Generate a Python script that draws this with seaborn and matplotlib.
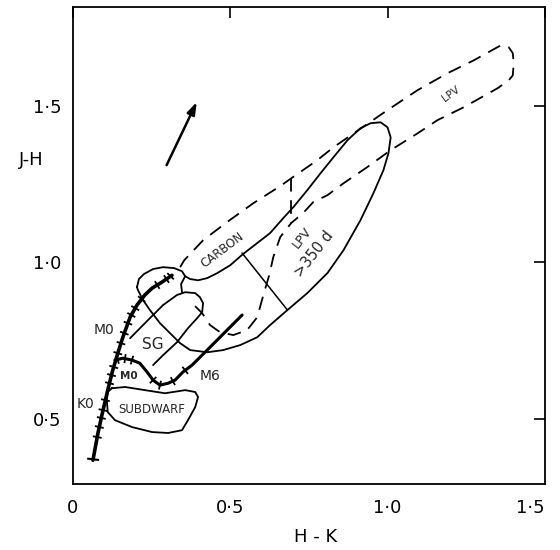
import numpy as np
import matplotlib
matplotlib.use("Agg")
import matplotlib.pyplot as plt
import seaborn as sns

# --- data (H-K, J-H) ---
# giant sequence (thick, with spectral-type ticks)
giant_hk = [0.064, 0.080, 0.096, 0.111, 0.127, 0.143, 0.159, 0.182, 0.204, 0.229, 0.252, 0.283, 0.315]
giant_jh = [0.367, 0.454, 0.527, 0.591, 0.655, 0.709, 0.760, 0.824, 0.863, 0.895, 0.917, 0.936, 0.958]
giant_tick_jh = [0.441, 0.473, 0.502, 0.527, 0.559, 0.613, 0.639, 0.665, 0.709, 0.741,
                 0.773, 0.805, 0.831, 0.853, 0.882, 0.927, 0.946, 0.955]
giant_cap_jh = [0.370]

# dwarf sequence, M0 -> M6 and beyond
dwarf_hk = [0.134, 0.159, 0.188, 0.213, 0.236, 0.255, 0.277, 0.303, 0.325, 0.350, 0.379, 0.420, 0.538]
dwarf_jh = [0.687, 0.693, 0.687, 0.677, 0.649, 0.623, 0.607, 0.613, 0.623, 0.649, 0.671, 0.712, 0.831]
dwarf_tick_hk = [0.143, 0.166, 0.188, 0.255, 0.277, 0.318, 0.357]

# subdwarf region
subdwarf_hk = [0.124, 0.166, 0.229, 0.293, 0.357, 0.389, 0.398, 0.389, 0.366, 0.347, 0.303,
               0.252, 0.188, 0.134, 0.111, 0.108, 0.111, 0.124]
subdwarf_jh = [0.597, 0.601, 0.591, 0.581, 0.591, 0.585, 0.569, 0.537, 0.495, 0.463, 0.454,
               0.457, 0.473, 0.495, 0.521, 0.559, 0.585, 0.597]

# supergiant finger (open at lower left)
sg_hk = [0.182, 0.245, 0.287, 0.331, 0.357, 0.389, 0.404, 0.414, 0.411, 0.395, 0.366, 0.331, 0.287, 0.255]
sg_jh = [0.757, 0.821, 0.863, 0.895, 0.904, 0.901, 0.888, 0.869, 0.840, 0.821, 0.789, 0.744, 0.703, 0.671]

# carbon stars / LPV > 350 d outline
carbon_hk = [0.204, 0.210, 0.226, 0.255, 0.287, 0.322, 0.347, 0.357, 0.373, 0.398, 0.427, 0.459,
             0.500, 0.541, 0.586, 0.627, 0.669, 0.701, 0.745, 0.787, 0.828, 0.873, 0.914, 0.946,
             0.978, 1.000, 1.010, 1.003, 0.987, 0.955, 0.914, 0.860, 0.809, 0.745, 0.682, 0.627,
             0.586, 0.532, 0.478, 0.427, 0.373, 0.341, 0.309, 0.277, 0.245, 0.223, 0.207, 0.204]
carbon_jh = [0.920, 0.946, 0.962, 0.978, 0.984, 0.981, 0.971, 0.955, 0.946, 0.942, 0.949, 0.965,
             0.990, 1.026, 1.061, 1.093, 1.141, 1.176, 1.230, 1.284, 1.335, 1.390, 1.428, 1.444,
             1.447, 1.431, 1.399, 1.348, 1.294, 1.220, 1.134, 1.038, 0.965, 0.901, 0.847, 0.799,
             0.760, 0.735, 0.719, 0.712, 0.719, 0.741, 0.773, 0.805, 0.847, 0.879, 0.911, 0.920]
link_hk = [0.357, 0.344, 0.347]
link_jh = [0.955, 0.930, 0.904]
divider_hk = [0.538, 0.682]
divider_jh = [1.029, 0.847]

# dashed LPV band
lpv_hk = [0.341, 0.354, 0.414, 0.490, 0.573, 0.659, 0.694, 0.777, 0.828, 1.000, 1.096, 1.191,
          1.274, 1.360, 1.385, 1.398, 1.401, 1.398, 1.385, 1.350, 1.242, 1.159, 1.096, 1.010,
          0.936, 0.860, 0.809, 0.764, 0.732, 0.694, 0.659, 0.637, 0.624, 0.608, 0.586, 0.554,
          0.510, 0.468, 0.436, 0.411, 0.379]
lpv_jh = [0.984, 1.006, 1.070, 1.128, 1.188, 1.243, 1.268, 1.326, 1.367, 1.486, 1.550, 1.604,
          1.645, 1.693, 1.687, 1.668, 1.636, 1.597, 1.581, 1.556, 1.495, 1.454, 1.412, 1.358,
          1.304, 1.252, 1.214, 1.192, 1.157, 1.125, 1.080, 1.016, 0.958, 0.904, 0.824, 0.783,
          0.767, 0.776, 0.799, 0.837, 0.869]
cut_hk = [0.694, 0.694]
cut_jh = [1.268, 1.125]

# reddening vector
arrow_hk = [0.298, 0.394]
arrow_jh = [1.310, 1.512]

# --- figure ---
sns.set_theme(style="white")
plt.rcParams['font.family'] = ['DejaVu Sans']

fig = plt.figure(figsize=(5.6, 5.5), dpi=100)
ax = fig.add_axes([0.130, 0.120, 0.843, 0.867])
ax.set_xlim(0, 1.5)
ax.set_ylim(0.291, 1.815)

ink = 'black'
dash = (0, (7.5, 4.8))


def trace(xs, ys, lw=1.3, ls='-'):
    sns.lineplot(x=xs, y=ys, sort=False, estimator=None, color=ink, lw=lw,
                 linestyle=ls, ax=ax, solid_joinstyle='round', solid_capstyle='round')


def ticks(xs, ys, vals, along='y', half=4.5, lw=1.3):
    # short marks perpendicular to the track, drawn in screen space
    fig.canvas.draw()
    tr = ax.transData
    inv = tr.inverted()
    for v in vals:
        if along == 'y':
            p = np.array([np.interp(v, ys, xs), v])
            a = np.array([np.interp(v - 0.01, ys, xs), v - 0.01])
            b = np.array([np.interp(v + 0.01, ys, xs), v + 0.01])
        else:
            p = np.array([v, np.interp(v, xs, ys)])
            a = np.array([v - 0.01, np.interp(v - 0.01, xs, ys)])
            b = np.array([v + 0.01, np.interp(v + 0.01, xs, ys)])
        pd_, ad, bd = tr.transform(p), tr.transform(a), tr.transform(b)
        t = bd - ad
        t = t / np.hypot(*t)
        n = np.array([-t[1], t[0]])
        ends = inv.transform(np.vstack([pd_ - half * n, pd_ + half * n]))
        ax.plot(ends[:, 0], ends[:, 1], color=ink, lw=lw, solid_capstyle='butt')


trace(carbon_hk, carbon_jh)
trace(link_hk, link_jh)
trace(divider_hk, divider_jh, lw=1.1)
trace(sg_hk, sg_jh)
trace(subdwarf_hk, subdwarf_jh)
trace(lpv_hk, lpv_jh, lw=1.3, ls=dash)
trace(cut_hk, cut_jh, lw=1.3, ls=dash)
trace(giant_hk, giant_jh, lw=2.6)
trace(dwarf_hk, dwarf_jh, lw=2.2)

ticks(giant_hk, giant_jh, giant_tick_jh, along='y', half=4.5)
ticks(giant_hk, giant_jh, giant_cap_jh, along='y', half=6, lw=1.5)
ticks(dwarf_hk, dwarf_jh, dwarf_tick_hk, along='x', half=4.5)

ax.annotate("", xy=(arrow_hk[1], arrow_jh[1]), xytext=(arrow_hk[0], arrow_jh[0]),
            arrowprops=dict(arrowstyle='-|>,head_length=0.6,head_width=0.2',
                            color=ink, lw=1.8, shrinkA=0, shrinkB=0))

# labels inside the diagram
ax.text(0.099, 0.783, "M0", fontsize=10, ha='center', va='center')
ax.text(0.040, 0.548, "K0", fontsize=10, ha='center', va='center')
ax.text(0.435, 0.636, "M6", fontsize=10, ha='center', va='center')
ax.text(0.253, 0.738, "SG", fontsize=11, ha='center', va='center')
ax.text(0.178, 0.637, "M0", fontsize=7.5, fontweight='bold', ha='center', va='center')
ax.text(0.250, 0.530, "SUBDWARF", fontsize=8.5, ha='center', va='center')
ax.text(0.474, 1.038, "CARBON", fontsize=8.5, rotation=37, ha='center', va='center')
ax.text(1.203, 1.539, "LPV", fontsize=7.5, rotation=36, ha='center', va='center')
ax.text(0.730, 1.079, "LPV", fontsize=9, rotation=52, ha='center', va='center')
ax.text(0.765, 1.026, ">350 d", fontsize=10.5, rotation=52, ha='center', va='center')

# axes styling
ax.set_xticks([0, 0.5, 1.0, 1.5])
ax.set_xticklabels(['0', '0·5', '1·0', '1·5'])
ax.set_yticks([0.5, 1.0, 1.5])
ax.set_yticklabels(['0·5', '1·0', '1·5'])
ax.tick_params(axis='both', direction='in', length=8, width=1.2, colors=ink,
               top=True, right=True, labelsize=13)
ax.tick_params(axis='x', pad=11)
ax.tick_params(axis='y', pad=8)
ax.get_xticklabels()[-1].set_ha('right')
for s in ax.spines.values():
    s.set_color(ink)
    s.set_linewidth(1.3)

ax.set_xlabel("H - K", fontsize=13, color=ink)
ax.xaxis.set_label_coords(0.515, -0.112)
ax.xaxis.label.set_va('center')
ax.set_ylabel("J-H", fontsize=13, color=ink, rotation=0)
ax.yaxis.set_label_coords(-0.087, 0.679)
ax.yaxis.label.set_va('center')
ax.yaxis.label.set_ha('center')

fig.savefig("out.png", dpi=100, facecolor='white')
